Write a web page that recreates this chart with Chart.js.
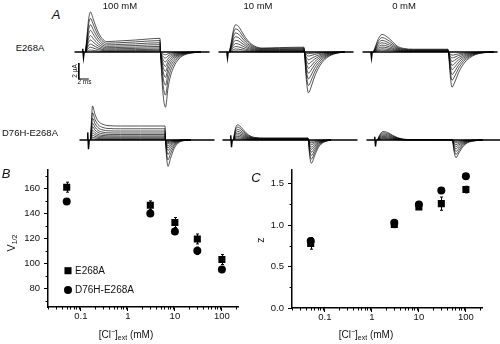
<!DOCTYPE html>
<html><head><meta charset="utf-8">
<script src="https://cdn.jsdelivr.net/npm/chart.js@4.4.1/dist/chart.umd.min.js"></script>
<style>
html,body{margin:0;padding:0;background:#fff;}
#root{position:relative;width:500px;height:344px;overflow:hidden;background:#fff;font-family:"Liberation Sans",Arial,sans-serif;color:#111;}
#root canvas{position:absolute;}
.t{position:absolute;white-space:nowrap;line-height:1;transform:translate(-50%,-50%);}
.rot{transform:translate(-50%,-50%) rotate(-90deg);}
.pl{font-style:italic;font-size:13px;}
</style></head><body><div id="root"></div>
<script>
// ================= DATA =================
// Panel A: two-electrode current traces. Time in ms from pulse onset, current in µA.
const concLabels = ['100 mM', '10 mM', '0 mM'];
const constructNames = ['E268A', 'D76H-E268A'];
const baseT = [-2.2, -0.7, -0.55, -0.4, -0.25, 24.8];

// E268A, 100 mM
const e100_onT = [0, 0.3, 0.6, 1.0, 1.5, 2.0, 2.6, 3.3, 4.2, 6, 10, 14.9];
const e100_onI = [0, 2.0, 4.0, 5.0, 4.2, 3.3, 2.4, 1.7, 1.3, 1.35, 1.5, 1.7];
const e100_onFrac = [1, 0.84, 0.68, 0.54, 0.41, 0.3, 0.2, 0.12, 0.05];
const e100_tailT = [15.0, 15.3, 15.6, 16.0, 16.5, 17.0, 17.7, 18.5, 19.5, 21, 23];
const e100_tailI = [0, -3.5, -5.8, -6.9, -4.5, -3.0, -1.8, -1.0, -0.45, -0.15, 0];
const e100_tailFrac = [1, 0.78, 0.6, 0.46, 0.35, 0.26, 0.18, 0.11, 0.05];
const e100_baseI = [0, 0, 0.4, -0.72, 0, 0];

// E268A, 10 mM
const e10_onT = [0, 0.4, 0.8, 1.2, 1.8, 2.5, 3.2, 4.0, 5.0, 6.5, 10, 14.9];
const e10_onI = [0, 1.4, 2.8, 3.4, 3.2, 2.5, 1.8, 1.2, 0.75, 0.5, 0.55, 0.6];
const e10_onFrac = [1, 0.85, 0.7, 0.56, 0.43, 0.31, 0.2, 0.11, 0.04];
const e10_tailT = [15.0, 15.3, 15.8, 16.3, 17.0, 17.8, 18.8, 20, 21.5, 23];
const e10_tailI = [0, -3.0, -5.1, -4.4, -3.1, -2.0, -1.1, -0.5, -0.15, 0];
const e10_tailFrac = [1, 0.82, 0.66, 0.52, 0.4, 0.29, 0.19, 0.1, 0.04];
const e10_baseI = [0, 0, 0.1, -0.75, 0, 0];

// E268A, 0 mM
const e0_onT = [0, 0.5, 1.0, 1.7, 2.7, 3.7, 4.7, 6.0, 8, 14.9];
const e0_onI = [0, 0.9, 1.7, 2.2, 1.9, 1.35, 0.75, 0.45, 0.35, 0.35];
const e0_onFrac = [1, 0.82, 0.66, 0.52, 0.39, 0.28, 0.18, 0.1];
const e0_tailT = [15.0, 15.3, 15.7, 16.3, 17.0, 18.0, 19.2, 20.5, 22, 24];
const e0_tailI = [0, -2.6, -4.4, -3.7, -2.6, -1.5, -0.75, -0.3, -0.1, 0];
const e0_tailFrac = [1, 0.8, 0.64, 0.5, 0.38, 0.27, 0.17, 0.09];
const e0_baseI = [0, 0, 0.1, -0.75, 0, 0];

// D76H-E268A, 100 mM
const d100_onT = [0, 0.2, 0.4, 0.9, 1.5, 2.5, 3.5, 6, 10, 14.9];
const d100_onI = [0, 2.5, 4.25, 3.2, 2.4, 1.95, 1.8, 1.75, 1.75, 1.75];
const d100_onFrac = [1, 0.8, 0.64, 0.5, 0.39, 0.29, 0.21, 0.14, 0.08, 0.03];
const d100_tailT = [15.0, 15.2, 15.5, 16.0, 16.7, 17.5, 18.5, 20];
const d100_tailI = [0, -2.0, -3.3, -2.3, -1.1, -0.4, -0.1, 0];
const d100_tailFrac = [1, 0.75, 0.55, 0.4, 0.3, 0.22, 0.15, 0.1, 0.06, 0.03];
const d100_baseI = [0, 0, 0.95, -1.15, 0, 0];

// D76H-E268A, 10 mM
const d10_onT = [0, 0.3, 0.8, 1.5, 2.5, 3.5, 4.5, 6, 14.9];
const d10_onI = [0, 1.2, 1.9, 1.6, 0.9, 0.45, 0.3, 0.25, 0.25];
const d10_onFrac = [1, 0.85, 0.7, 0.57, 0.45, 0.34, 0.24, 0.15, 0.07];
const d10_tailT = [15.0, 15.2, 15.6, 16.2, 17.0, 18.0, 19.5];
const d10_tailI = [0, -1.8, -2.9, -2.0, -0.9, -0.3, 0];
const d10_tailFrac = [1, 0.82, 0.66, 0.52, 0.4, 0.3, 0.2, 0.12, 0.05];
const d10_baseI = [0, 0, 0.6, -0.9, 0, 0];

// D76H-E268A, 0 mM
const d0_onT = [0, 0.5, 1.1, 2.0, 3.0, 4.0, 5.0, 6.5, 14.9];
const d0_onI = [0, 0.7, 1.05, 0.95, 0.6, 0.3, 0.12, 0.06, 0.05];
const d0_onFrac = [1, 0.85, 0.7, 0.56, 0.43, 0.31, 0.2, 0.1];
const d0_tailT = [15.0, 15.3, 15.7, 16.3, 17.0, 18.0, 19.5, 21];
const d0_tailI = [0, -1.4, -2.2, -1.6, -0.9, -0.35, -0.1, 0];
const d0_tailFrac = [1, 0.82, 0.65, 0.5, 0.37, 0.26, 0.16, 0.08];
const d0_baseI = [0, 0, 0.4, -0.8, 0, 0];

// scale bar: 2 ms, 2 µA
const scaleBarT = [-1.34, -1.34, 0.66];
const scaleBarI = [-1.375, -3.375, -3.375];

// Panels B and C
const conc = [0.05, 3, 10, 30, 100];
const v12_E268A = [161, 146.5, 132.7, 119.5, 103];
const v12_E268A_err = [4, 3.5, 4, 4, 4];
const v12_D76H = [149.5, 140, 125.5, 110, 95];
const v12_D76H_err = [2, 2, 2, 3, 2];
const z_E268A = [0.78, 1.01, 1.22, 1.26, 1.43];
const z_E268A_err = [0.07, 0.04, 0.03, 0.08, 0.04];
const z_D76H = [0.81, 1.03, 1.25, 1.42, 1.59];
const z_D76H_err = [0.03, 0.03, 0.02, 0.02, 0.03];

const xMajor = [0.1, 1, 10, 100];
const xMinor = [0.02,0.03,0.04,0.05,0.06,0.07,0.08,0.09,0.2,0.3,0.4,0.5,0.6,0.7,0.8,0.9,2,3,4,5,6,7,8,9,20,30,40,50,60,70,80,90,200];
const vMajor = [80, 100, 120, 140, 160];
const vMinor = [70, 90, 110, 130, 150, 170];
const zMajor = [0, 0.5, 1.0, 1.5];
const zMinor = [0.25, 0.75, 1.25];

// ================= LAYOUT =================
const root = document.getElementById('root');
function addCanvas(left, top, w, h) {
  const c = document.createElement('canvas');
  c.width = w; c.height = h;
  c.style.left = left + 'px'; c.style.top = top + 'px';
  c.style.width = w + 'px'; c.style.height = h + 'px';
  root.appendChild(c);
  return c;
}
function addText(html, x, y, size, cls, extra) {
  const d = document.createElement('div');
  d.className = 't ' + (cls || '');
  d.innerHTML = html;
  d.style.left = x + 'px'; d.style.top = y + 'px';
  d.style.fontSize = size + 'px';
  if (extra) Object.assign(d.style, extra);
  root.appendChild(d);
}

const families = [
  {onT:e100_onT,onI:e100_onI,onFrac:e100_onFrac,tailT:e100_tailT,tailI:e100_tailI,tailFrac:e100_tailFrac,baseI:e100_baseI},
  {onT:e10_onT,onI:e10_onI,onFrac:e10_onFrac,tailT:e10_tailT,tailI:e10_tailI,tailFrac:e10_tailFrac,baseI:e10_baseI},
  {onT:e0_onT,onI:e0_onI,onFrac:e0_onFrac,tailT:e0_tailT,tailI:e0_tailI,tailFrac:e0_tailFrac,baseI:e0_baseI},
  {onT:d100_onT,onI:d100_onI,onFrac:d100_onFrac,tailT:d100_tailT,tailI:d100_tailI,tailFrac:d100_tailFrac,baseI:d100_baseI},
  {onT:d10_onT,onI:d10_onI,onFrac:d10_onFrac,tailT:d10_tailT,tailI:d10_tailI,tailFrac:d10_tailFrac,baseI:d10_baseI},
  {onT:d0_onT,onI:d0_onI,onFrac:d0_onFrac,tailT:d0_tailT,tailI:d0_tailI,tailFrac:d0_tailFrac,baseI:d0_baseI}
];
const traceBoxes = [
  {left:73, top:0, h:116, ymin:-8, ymax:6.5},
  {left:217, top:0, h:116, ymin:-8, ymax:6.5},
  {left:361, top:0, h:116, ymin:-8, ymax:6.5},
  {left:78, top:100, h:72, ymin:-4, ymax:5},
  {left:221, top:100, h:72, ymin:-4, ymax:5},
  {left:365, top:100, h:72, ymin:-4, ymax:5}
];

families.forEach((f, fi) => {
  const box = traceBoxes[fi];
  const datasets = [];
  f.onFrac.forEach((fr, i) => {
    const tf = f.tailFrac[Math.min(i, f.tailFrac.length - 1)];
    const pts = f.onT.map((t, k) => ({x: t, y: f.onI[k] * fr}))
      .concat(f.tailT.map((t, k) => ({x: t, y: f.tailI[k] * tf})));
    datasets.push({data: pts, borderColor: 'rgba(0,0,0,0.85)', borderWidth: 0.8,
      pointRadius: 0, cubicInterpolationMode: 'monotone', clip: false});
  });
  datasets.push({data: baseT.map((t, k) => ({x: t, y: f.baseI[k]})), borderColor: '#000',
    borderWidth: 1.4, pointRadius: 0, tension: 0, clip: false});
  if (fi === 0) {
    datasets.push({data: scaleBarT.map((t, k) => ({x: t, y: scaleBarI[k]})), borderColor: '#000',
      borderWidth: 1, pointRadius: 0, tension: 0, clip: false});
  }
  const c = addCanvas(box.left, box.top, 140, box.h);
  new Chart(c, {
    type: 'line', data: {datasets},
    options: {responsive: false, animation: false, events: [],
      layout: {padding: 0},
      plugins: {legend: {display: false}, tooltip: {enabled: false}},
      scales: {x: {type: 'linear', min: -2.5, max: 25.5, display: false},
               y: {type: 'linear', min: box.ymin, max: box.ymax, display: false}}}
  });
});

// --- plugins for B/C ---
const errorBars = {id: 'errorBars', beforeDatasetsDraw(chart) {
  const {ctx} = chart; const xs = chart.scales.x, ys = chart.scales.y;
  ctx.save(); ctx.strokeStyle = '#000'; ctx.lineWidth = 1;
  chart.data.datasets.forEach(ds => {
    if (!ds.errors) return;
    ds.data.forEach((p, i) => {
      const x = Math.round(xs.getPixelForValue(p.x)) + 0.5;
      const y1 = ys.getPixelForValue(p.y + ds.errors[i]);
      const y2 = ys.getPixelForValue(p.y - ds.errors[i]);
      ctx.beginPath();
      ctx.moveTo(x, y1); ctx.lineTo(x, y2);
      ctx.moveTo(x - 1.5, y1); ctx.lineTo(x + 1.5, y1);
      ctx.moveTo(x - 1.5, y2); ctx.lineTo(x + 1.5, y2);
      ctx.stroke();
    });
  });
  ctx.restore();
}};
const minorTicks = {id: 'minorTicks', afterDraw(chart, args, opts) {
  const {ctx} = chart; const xs = chart.scales.x, ys = chart.scales.y;
  ctx.save(); ctx.strokeStyle = '#000'; ctx.lineWidth = 1; ctx.beginPath();
  (opts.x || []).forEach(v => { const p = Math.round(xs.getPixelForValue(v)) + 0.5;
    ctx.moveTo(p, ys.bottom); ctx.lineTo(p, ys.bottom + 2.5); });
  (opts.y || []).forEach(v => { const p = Math.round(ys.getPixelForValue(v)) + 0.5;
    ctx.moveTo(xs.left, p); ctx.lineTo(xs.left - 2.5, p); });
  ctx.stroke(); ctx.restore();
}};
const insetLegend = {id: 'insetLegend', afterDraw(chart, args, opts) {
  if (!opts.items) return;
  const {ctx} = chart; const a = chart.chartArea;
  ctx.save();
  opts.items.forEach((it, i) => {
    const x = a.left + opts.dx, y = a.top + opts.dy + i * opts.gap;
    ctx.fillStyle = '#000'; ctx.strokeStyle = '#000';
    Chart.helpers.drawPoint(ctx, {pointStyle: it.style, radius: it.r, rotation: 0, borderWidth: 0}, x, y);
    ctx.fillStyle = '#111'; ctx.font = '10px "Liberation Sans", Arial, sans-serif';
    ctx.textBaseline = 'middle'; ctx.textAlign = 'left';
    ctx.fillText(it.label, x + 7, y + 0.5);
  });
  ctx.restore();
}};

const tickFont = {family: '"Liberation Sans", Arial, sans-serif', size: 9.5};
function scatterChart(canvas, cfg) {
  return new Chart(canvas, {
    type: 'scatter',
    data: {datasets: cfg.datasets},
    plugins: [errorBars, minorTicks, insetLegend],
    options: {
      responsive: false, animation: false, events: [],
      layout: {padding: cfg.padding},
      plugins: {legend: {display: false}, tooltip: {enabled: false},
        minorTicks: {x: xMinor, y: cfg.yMinor}, insetLegend: cfg.legend || {}},
      scales: {
        x: {type: 'logarithmic', min: 0.02, max: 220,
          afterBuildTicks: s => { s.ticks = xMajor.map(v => ({value: v})); },
          afterFit: s => { s.height = cfg.xh; },
          grid: {display: true, drawOnChartArea: false, drawTicks: true, tickLength: 4, color: '#000', tickWidth: 1},
          border: {display: true, color: '#000', width: 1.5},
          ticks: {font: tickFont, color: '#111', padding: 0, autoSkip: false, maxRotation: 0,
            callback: v => String(v)}},
        y: {type: 'linear', min: cfg.ymin, max: cfg.ymax,
          afterBuildTicks: s => { s.ticks = cfg.yMajor.map(v => ({value: v})); },
          afterFit: s => { s.width = cfg.yw; },
          grid: {display: true, drawOnChartArea: false, drawTicks: true, tickLength: 4, color: '#000', tickWidth: 1},
          border: {display: true, color: '#000', width: 1.5},
          ticks: {font: tickFont, color: '#111', padding: 4, autoSkip: false,
            callback: cfg.yFmt}}
      }
    }
  });
}
function ds(label, ys, errs, style, r) {
  return {label, data: conc.map((c, i) => ({x: c, y: ys[i]})), errors: errs,
    pointStyle: style, pointRadius: r, backgroundColor: '#000', borderColor: '#000', borderWidth: 0};
}

// Panel B
scatterChart(addCanvas(0, 160, 250, 184), {
  datasets: [ds(constructNames[0], v12_E268A, v12_E268A_err, 'rect', 5),
             ds(constructNames[1], v12_D76H, v12_D76H_err, 'circle', 4)],
  padding: {left: 0, right: 12, top: 8, bottom: 0}, xh: 37, yw: 48,
  ymin: 65, ymax: 175, yMajor: vMajor, yMinor: vMinor, yFmt: v => String(v),
  legend: {dx: 20, dy: 101, gap: 19.3, items: [
    {label: constructNames[0], style: 'rect', r: 5},
    {label: constructNames[1], style: 'circle', r: 4}]}
});
// Panel C
scatterChart(addCanvas(250, 160, 250, 184), {
  datasets: [ds(constructNames[0], z_E268A, z_E268A_err, 'rect', 5),
             ds(constructNames[1], z_D76H, z_D76H_err, 'circle', 4)],
  padding: {left: 0, right: 18, top: 8, bottom: 0}, xh: 36, yw: 42,
  ymin: 0, ymax: 1.67, yMajor: zMajor, yMinor: zMinor, yFmt: v => v.toFixed(1)
});

// ================= TEXT =================
addText('A', 56, 14, 13, 'pl');
addText('B', 6, 173, 13, 'pl');
addText('C', 256, 177, 13, 'pl');
addText(concLabels[0], 120, 6, 9.5);
addText(concLabels[1], 258, 6, 9.5);
addText(concLabels[2], 404, 6, 9.5);
addText(constructNames[0], 30, 47.5, 9.5);
addText(constructNames[1], 30, 132.5, 9.5);
addText('2 µA', 75, 71, 6.5, 'rot');
addText('2 ms', 84.5, 82, 6.5);
addText('V<sub style="font-size:7px;vertical-align:-2px">1/2</sub>', 12, 243, 10.5, 'rot');
addText('[Cl<sup style="font-size:7px;vertical-align:4px">−</sup>]<sub style="font-size:7px;vertical-align:-2px">ext</sub> (mM)', 126, 334, 10);
addText('z', 260, 240, 10.5, 'rot');
addText('[Cl<sup style="font-size:7px;vertical-align:4px">−</sup>]<sub style="font-size:7px;vertical-align:-2px">ext</sub> (mM)', 366, 334, 10);
</script></body></html>
